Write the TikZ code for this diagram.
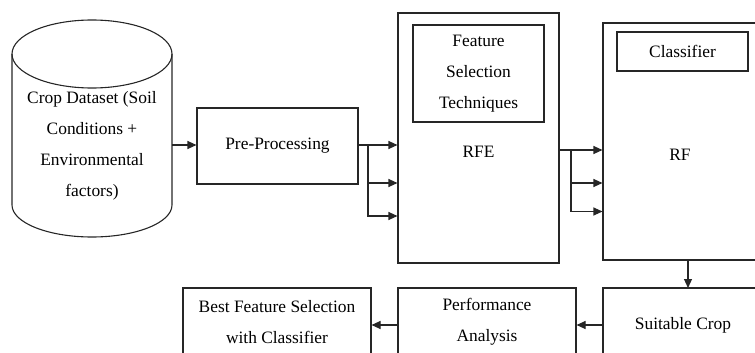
\documentclass[tikz,border=0pt]{standalone}
\usepackage{fontspec}
\setmainfont{Liberation Serif}
\usetikzlibrary{arrows.meta,calc}

\tikzset{
  line/.style={draw=black!85, line width=1.1pt},
  arr/.style={line, -{Triangle[length=9pt,width=8pt]}},
  box/.style={line, rectangle, inner sep=0pt, align=center},
  txt/.style={inner sep=0pt, align=center},
}

\begin{document}
\begin{tikzpicture}[x=1pt, y=-1pt,
  every node/.append style={font=\fontsize{17.4}{31}\selectfont}]
  \useasboundingbox (0,0) rectangle (755,353);
  \clip (0,0) rectangle (755,353);

  % database cylinder
  \draw[line] (92,54) ellipse [x radius=80, y radius=34];
  \draw[line] (12,54) -- (12,205) arc [start angle=180, end angle=360, x radius=80, y radius=-32] -- (172,54);
  \node[txt, minimum width=160pt, minimum height=120pt] (db) at (92,146)
    {Crop Dataset (Soil\\Conditions +\\Environmental\\factors)};

  % pre-processing
  \node[box, minimum width=161pt, minimum height=76pt] (pre) at (277.5,146) {Pre-Processing};

  % feature selection block
  \node[box, minimum width=161pt, minimum height=250pt] (rfe) at (478.5,138) {};
  \node[box, minimum width=131pt, minimum height=97pt] (fst) at (478.5,73.5) {Feature\\Selection\\Techniques};
  \node[txt] (rfelbl) at (478.5,152) {RFE};

  % classifier block
  \node[box, minimum width=172pt, minimum height=237pt] (rf) at (689,141.5) {};
  \node[box, minimum width=131pt, minimum height=39pt] (cls) at (682.5,51.5) {Classifier};
  \node[txt] (rflbl) at (680,155) {RF};

  % bottom row
  \node[box, minimum width=160pt, minimum height=74pt] (crop) at (683,325) {Suitable Crop};
  \node[box, minimum width=178pt, minimum height=68pt] (perf) at (487,322) {Performance\\Analysis};
  \node[box, minimum width=188pt, minimum height=68pt] (best) at (277,322) {Best Feature Selection\\with Classifier};

  % branch points
  \coordinate (b1) at (368,145);
  \coordinate (b2) at (571,150);

  % connectors
  \draw[arr] (db.east |- 0,145) -- (pre.west |- 0,145);
  \draw[line] (pre.east |- b1) -- (b1);
  \draw[arr] (b1) -- (rfe.west |- b1);
  \draw[arr] (b1) |- (rfe.west |- 0,183);
  \draw[arr] (b1) |- (rfe.west |- 0,216);

  \draw[line] (rfe.east |- b2) -- (b2);
  \draw[arr] (b2) -- (rf.west |- b2);
  \draw[arr] (b2) |- (rf.west |- 0,183);
  \draw[arr] (b2) |- (rf.west |- 0,211.5);

  \draw[arr] (688,260) -- (688,288);
  \draw[arr] (crop.west) -- (perf.east |- crop.west);
  \draw[arr] (perf.west |- crop.west) -- (best.east |- crop.west);
\end{tikzpicture}
\end{document}
